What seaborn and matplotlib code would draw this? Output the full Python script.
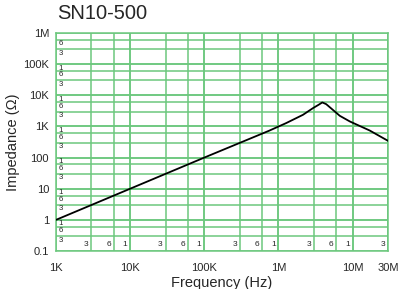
import numpy as np
import pandas as pd
import matplotlib
matplotlib.use('Agg')
import matplotlib.pyplot as plt
import seaborn as sns

# impedance curve
freq_hz = [1e3, 1e4, 1e5, 7.5e5, 1.27e6, 2.14e6, 2.92e6, 3.5e6, 3.9e6, 4.4e6,
           5.5e6, 6.7e6, 9.2e6, 1.7e7, 3e7]
impedance = [1, 10, 100, 730, 1280, 2360, 3870, 5000, 5900, 5200,
             3300, 2200, 1440, 740, 345]

x_major = [1e3, 1e4, 1e5, 1e6, 1e7, 3e7]
x_major_labels = ['1K', '10K', '100K', '1M', '10M', '30M']
y_major = [0.1, 1, 10, 100, 1e3, 1e4, 1e5, 1e6]
y_major_labels = ['0.1', '1', '10', '100', '1K', '10K', '100K', '1M']

# small in-plot grid labels
x_minor = [3e3, 6e3, 1e4, 3e4, 6e4, 1e5, 3e5, 6e5, 1e6, 3e6, 6e6, 1e7, 3e7]
x_minor_labels = ['3', '6', '1', '3', '6', '1', '3', '6', '1', '3', '6', '1', '3']
y_minor = [0.3, 0.6, 1, 3, 6, 10, 30, 60, 100, 300, 600, 1e3, 3e3, 6e3,
           1e4, 3e4, 6e4, 1e5, 3e5, 6e5]
y_minor_labels = ['3', '6', '1', '3', '6', '1', '3', '6', '1', '3', '6', '1',
                  '3', '6', '1', '3', '6', '1', '3', '6']

df = pd.DataFrame({'freq': freq_hz, 'z': impedance})

sns.set_style('white')
plt.rcParams['font.family'] = ['Liberation Sans', 'DejaVu Sans']

grid_col = '#6cc77d'

fig = plt.figure(figsize=(3.99, 2.89), dpi=100)
ax = fig.add_axes([0.1404, 0.1315, 0.8320, 0.7543])

ax.set_xscale('log')
ax.set_yscale('log')
ax.set_xlim(1e3, 3e7)
ax.set_ylim(0.1, 1e6)

# grid
for v in x_major + x_minor:
    ax.axvline(v, color=grid_col, lw=1.1, zorder=1)
for v in y_major + y_minor:
    ax.axhline(v, color=grid_col, lw=1.1, zorder=1)

sns.lineplot(data=df, x='freq', y='z', color='black', lw=1.3, ax=ax, zorder=3)

ax.set_xticks(x_major)
ax.set_xticklabels(x_major_labels, fontsize=8)
ax.set_yticks(y_major)
ax.set_yticklabels(y_major_labels, fontsize=8)
ax.minorticks_off()
ax.tick_params(axis='y', length=0, pad=5)
ax.tick_params(axis='x', length=0, pad=9)

for v, t in zip(x_minor, x_minor_labels):
    ax.annotate(t, xy=(v, 0.1), xytext=(-2, 2), textcoords='offset points',
                ha='right', va='bottom', fontsize=6, zorder=4)
for v, t in zip(y_minor, y_minor_labels):
    ax.annotate(t, xy=(1e3, v), xytext=(2, -0.3), textcoords='offset points',
                ha='left', va='top', fontsize=5.6, zorder=4)

for s in ax.spines.values():
    s.set_color(grid_col)
    s.set_linewidth(1.1)

ax.set_xlabel('Frequency (Hz)', fontsize=10.5, labelpad=2)
ax.set_ylabel('Impedance (Ω)', fontsize=10.5, labelpad=2)
fig.text(0.143, 0.952, 'SN10-500', fontsize=14.5, ha='left', va='center')

fig.savefig('out.png', dpi=100)
